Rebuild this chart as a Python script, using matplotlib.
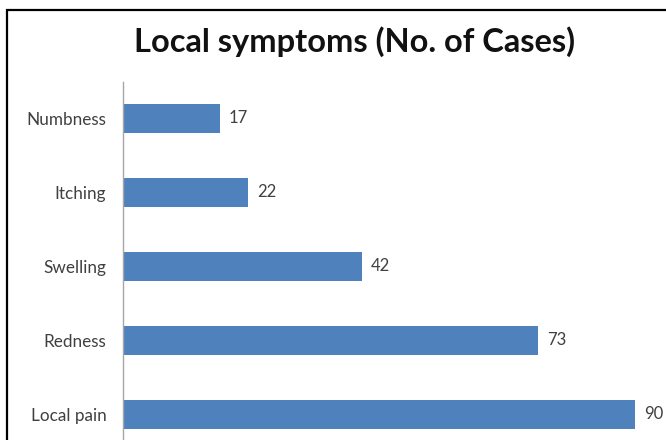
import matplotlib.pyplot as plt
from matplotlib.patches import Rectangle

# data
symptoms = ["Local pain", "Redness", "Swelling", "Itching", "Numbness"]
cases = [90, 73, 42, 22, 17]

fig = plt.figure(figsize=(6.66, 4.4), dpi=100)
ax = fig.add_axes([123 / 666, 0.0, 543 / 666, 358 / 440])

ax.barh(range(len(symptoms)), cases, height=0.39, color="#4F81BD")
for i, v in enumerate(cases):
    ax.text(v + 1.6, i, str(v), va="center", ha="left", fontsize=12,
            color="#404040", family="Lato", clip_on=False)

ax.set_xlim(0, 543 / 5.689)
ax.set_ylim(-0.35, 4.49)
ax.set_yticks(range(len(symptoms)))
ax.set_yticklabels(symptoms, family="Lato", fontsize=12.3, color="#404040")
ax.tick_params(axis="y", length=0, pad=12)
ax.set_xticks([])
for s in ["top", "right", "bottom"]:
    ax.spines[s].set_visible(False)
ax.spines["left"].set_color("#A6A6A6")
ax.spines["left"].set_linewidth(1.0)

fig.text(355 / 666, 1 - 42 / 440, "Local symptoms (No. of Cases)", ha="center",
         va="center", fontsize=23.5, fontweight="bold", family="Lato", color="#111111")

# outer frame (cropped on right and bottom in the original)
fig.patches.append(Rectangle((7, -20), 700, 450, transform=None,
                             fill=False, edgecolor="black", linewidth=1.6))

fig.savefig("out.png", dpi=100)
